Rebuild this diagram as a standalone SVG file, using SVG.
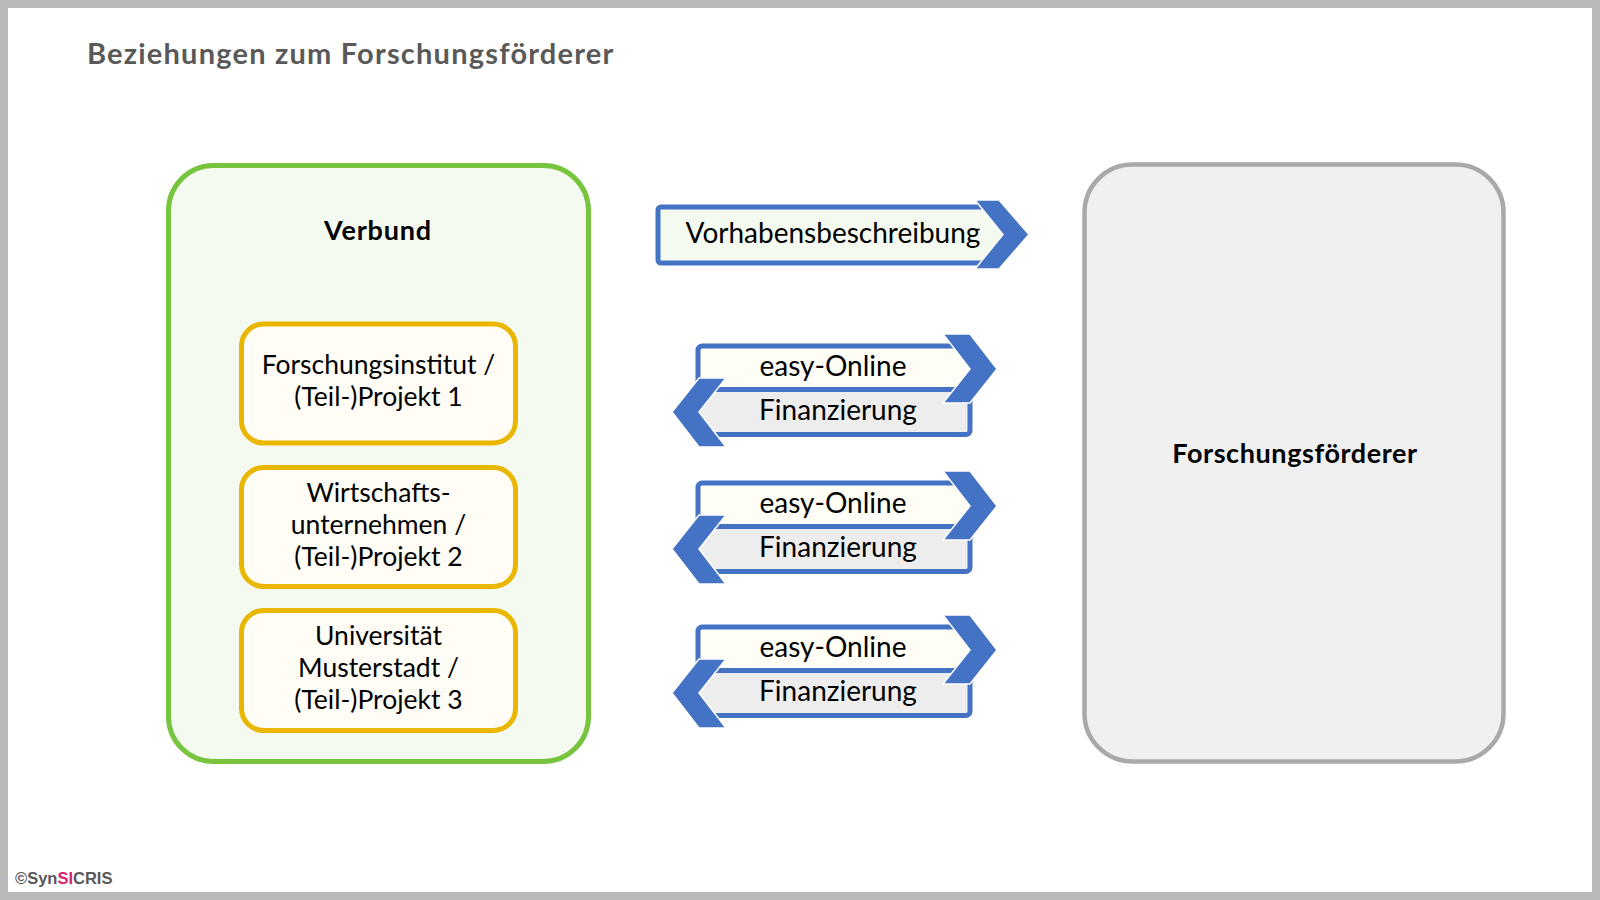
<svg xmlns="http://www.w3.org/2000/svg" width="1600" height="900" viewBox="0 0 1600 900">
<defs>
<style>
.t{font-family:Lato,"Open Sans","Noto Sans",sans-serif;fill:#000;text-anchor:middle}
.b{font-weight:bold}
.box{font-size:26.5px}
.arr{font-size:28px}
.chev{fill:#4472C4;stroke:#fff;stroke-width:1.5;stroke-linejoin:miter}
.rb{stroke:#4472C4;stroke-width:5;stroke-linejoin:round}
.yb{fill:#FFFDF6;stroke:#E9B700;stroke-width:5}
</style>
<g id="pair">
<path class="rb" d="M702,346 H957 L980,369 L962,389.5 H698 V350 A4,4 0 0 1 702,346 Z" fill="#FEFDF6"/>
<path class="rb" d="M708,389.5 H966 A4,4 0 0 1 970,393.5 V430.5 A4,4 0 0 1 966,434.5 H708 L690,412 Z" fill="#EDEDED"/>
<polygon class="chev" points="943,334 970,334 997,369 970,403 943,403 970,369"/>
<polygon class="chev" points="699,378 726,378 699,412 726,447 699,447 672,412"/>
<text class="t arr" x="833" y="376">easy-Online</text>
<text class="t arr" x="838" y="420">Finanzierung</text>
</g>
</defs>
<rect x="4" y="4" width="1592" height="892" fill="#FFFFFF" stroke="#BAB8B9" stroke-width="8"/>
<g id="title">
<text x="87" y="64" font-family="Lato,'Open Sans',sans-serif" font-weight="bold" font-size="29" letter-spacing="1.2" fill="#595959">Beziehungen zum Forschungsförderer</text>
</g>
<g id="verbund">
<rect x="168.5" y="165.5" width="420" height="596" rx="45" fill="#F5FAF0" stroke="#77C43F" stroke-width="5"/>
<text class="t b" x="378" y="240" font-size="27" letter-spacing="0.8">Verbund</text>
</g>
<g id="projekt1">
<rect class="yb" x="241.5" y="324" width="274" height="119" rx="22"/>
<text class="t box" x="378.5" y="374">Forschungsinstitut /</text>
<text class="t box" x="378.5" y="406">(Teil-)Projekt 1</text>
</g>
<g id="projekt2">
<rect class="yb" x="241.5" y="467.5" width="274" height="119" rx="22"/>
<text class="t box" x="378.5" y="502">Wirtschafts-</text>
<text class="t box" x="378.5" y="534">unternehmen /</text>
<text class="t box" x="378.5" y="566">(Teil-)Projekt 2</text>
</g>
<g id="projekt3">
<rect class="yb" x="241.5" y="610.5" width="274" height="120" rx="22"/>
<text class="t box" x="378.5" y="645">Universität</text>
<text class="t box" x="378.5" y="677">Musterstadt /</text>
<text class="t box" x="378.5" y="709">(Teil-)Projekt 3</text>
</g>
<g id="foerderer">
<rect x="1084.5" y="164.5" width="419" height="597" rx="48" fill="#F0F0F0" stroke="#A9A9A9" stroke-width="4.5"/>
<text class="t b" x="1295" y="463" font-size="27" letter-spacing="0.6">Forschungsförderer</text>
</g>
<g id="connectors">
<g id="vorhaben">
<path class="rb" d="M661,207 H985 L1010,234.5 L985,263 H661 A3,3 0 0 1 658,260 V210 A3,3 0 0 1 661,207 Z" fill="#F5FAF0"/>
<polygon class="chev" points="975,200 999,200 1029,234.5 999,269 975,269 1003,234.5"/>
<text class="t arr" x="833" y="243">Vorhabensbeschreibung</text>
</g>
<use href="#pair"/>
<use href="#pair" y="137"/>
<use href="#pair" y="281"/>
</g>
<g id="copyright">
<text x="15" y="884" font-family="'Liberation Sans',Arial,sans-serif" font-weight="bold" font-size="16.5" fill="#595959">©Syn<tspan fill="#D8226F">SI</tspan>CRIS</text>
</g>
</svg>
